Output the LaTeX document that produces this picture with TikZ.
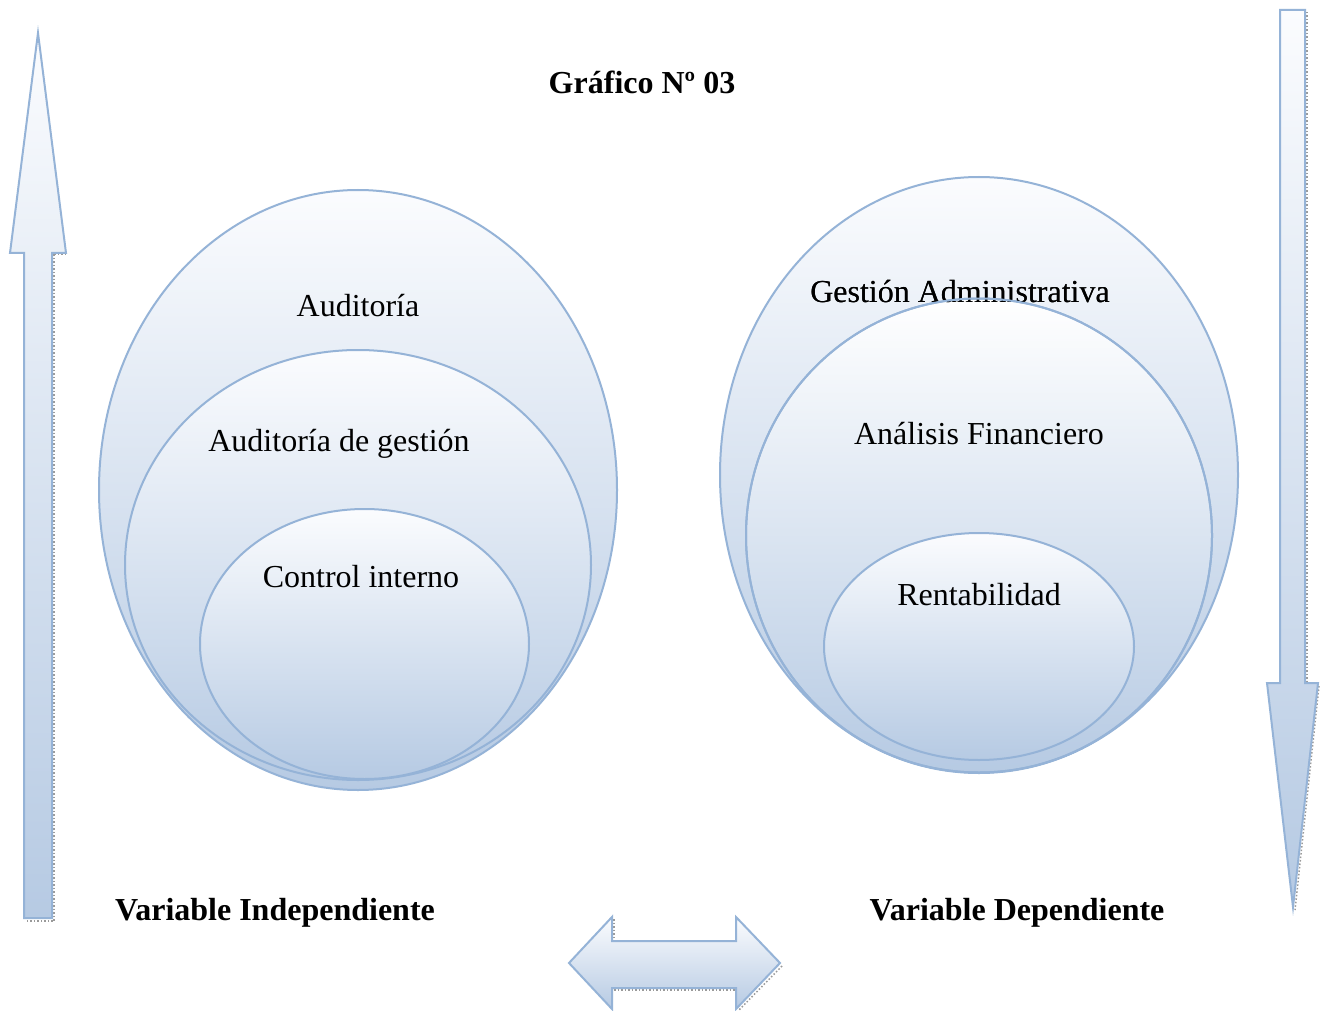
\documentclass[tikz,border=0pt]{standalone}
\usepackage{fontspec}
\setmainfont{Liberation Serif}
\usetikzlibrary{shapes.geometric}
\definecolor{edgeblue}{HTML}{95B3D7}
\definecolor{topfill}{HTML}{FBFCFE}
\definecolor{midfill}{HTML}{EDF1F7}
\definecolor{botfill}{HTML}{B6CAE3}
\definecolor{shadowgray}{HTML}{9A9A9A}
\begin{document}
\begin{tikzpicture}[x=1pt,y=-1pt,
  bubble/.style={ellipse, draw=edgeblue, line width=2pt, top color=topfill, middle color=midfill, bottom color=botfill, inner sep=0pt},
  outlineonly/.style={ellipse, draw=edgeblue, line width=2pt, inner sep=0pt},
  bigarrow/.style={draw=edgeblue, line width=2pt, line join=miter, top color=topfill, bottom color=botfill},
  shadowline/.style={draw=shadowgray, line width=1.5pt, dotted},
  label/.style={font=\fontsize{32}{38}\selectfont, inner sep=0pt},
  boldlabel/.style={font=\fontsize{32}{38}\selectfont\bfseries, inner sep=0pt}]
\useasboundingbox (0,0) rectangle (1328,1011);
\fill[white] (0,0) rectangle (1328,1011);

% title
\node[boldlabel] (title) at (642,82) {Gráfico Nº 03};

% left set of ellipses
\node[bubble, minimum width=518pt, minimum height=600pt] (lo) at (358,490) {};
\node[bubble, minimum width=466pt, minimum height=430pt] (lm) at (358,565) {};
\node[bubble, minimum width=329pt, minimum height=270pt] (li) at (364.5,644) {};
\node[label] (t1) at (358,306) {Auditoría};
\node[label] (t2) at (339,444) {Auditoría de gestión};
\node[label] (t3) at (361,577) {Control interno};

% right set of ellipses
\node[bubble, minimum width=518pt, minimum height=596pt] (ro) at (979,475) {};
\node[label] (t4) at (960,292) {Gestión Administrativa};
\node[bubble, top color=white, minimum width=466pt, minimum height=474pt] (rm) at (979,535.5) {};
\node[label] (t4b) at (960,292) {Gestión Administrativa};
\node[outlineonly, minimum width=466pt, minimum height=474pt] (rmline) at (979,535.5) {};
\node[bubble, minimum width=310pt, minimum height=227pt] (ri) at (979,646.5) {};
\node[label] (t5) at (979,434) {Análisis Financiero};
\node[label] (t6) at (979,595) {Rentabilidad};

% bottom labels
\node[boldlabel] (vi) at (275,913) {Variable Independiente};
\node[boldlabel] (vd) at (1017,913) {Variable Dependiente};

% left up arrow
\draw[shadowline] (54,254) -- (68,254);
\draw[shadowline] (54,254) -- (54,921) -- (26,921);
\draw[bigarrow] (38,33) -- (66,253) -- (52,253) -- (52,918) -- (24,918) -- (24,253) -- (10,253) -- cycle;

% right down arrow
\draw[shadowline] (1307,12) -- (1307,682);
\draw[shadowline] (1319,686) -- (1295,910);
\draw[bigarrow] (1280,10) -- (1305,10) -- (1305,683) -- (1318,683) -- (1293,907) -- (1267,683) -- (1280,683) -- cycle;

% double arrow
\draw[shadowline] (614,990) -- (736,990);
\draw[shadowline] (614,919) -- (614,940);
\draw[shadowline] (782,966) -- (739,1010);
\draw[bigarrow] (569,963) -- (612,917) -- (612,941) -- (736,941) -- (736,917) -- (780,963) -- (736,1009) -- (736,988) -- (612,988) -- (612,1009) -- cycle;
\end{tikzpicture}
\end{document}
